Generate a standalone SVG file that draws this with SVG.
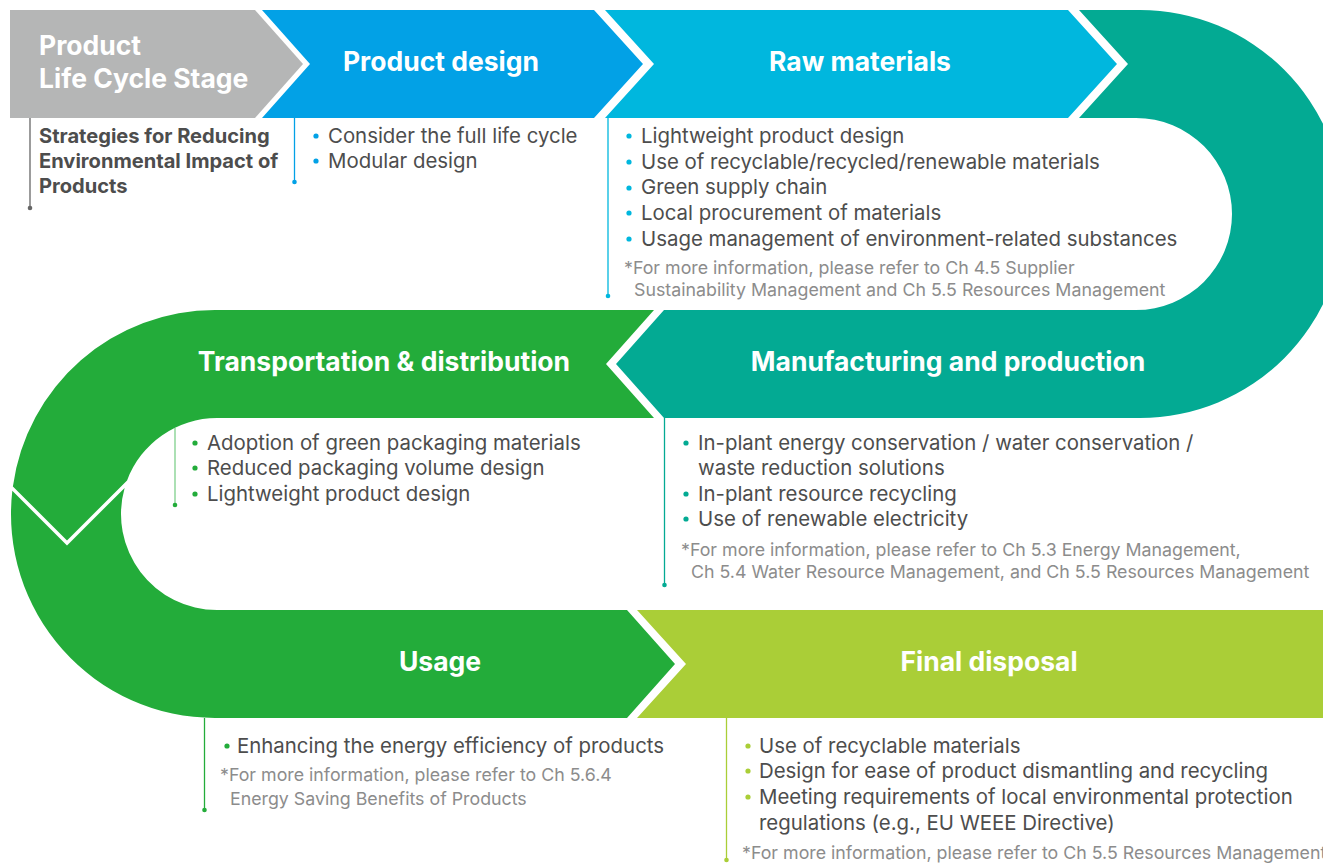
<svg xmlns="http://www.w3.org/2000/svg" width="1323" height="863" viewBox="0 0 1323 863">
<style>
.title{font-family:Inter,"Noto Sans","Liberation Sans",sans-serif;font-weight:700;font-size:26.5px;fill:#ffffff;text-anchor:middle}
.head{font-family:Inter,"Noto Sans","Liberation Sans",sans-serif;font-weight:700;font-size:26.5px;fill:#ffffff}
.strat{font-family:Inter,"Noto Sans","Liberation Sans",sans-serif;font-weight:700;font-size:20.1px;fill:#4d4d4d}
.body{font-family:Inter,"Noto Sans","Liberation Sans",sans-serif;font-size:20.4px;fill:#4d4d4d}
.note{font-family:Inter,"Noto Sans","Liberation Sans",sans-serif;font-size:17.8px;fill:#8c8c8c}
.lead{fill:none;stroke-width:1.3}
</style>
<rect x="0" y="0" width="1323" height="863" fill="#ffffff"/>

<g id="stage-header">
<polygon points="10,10 255,10 303,64 255,118 10,118" fill="#b5b6b6"/>
<text class="head" x="39" y="55">Product</text>
<text class="head" x="39" y="88">Life Cycle Stage</text>
<text class="strat" x="39" y="143">Strategies for Reducing</text>
<text class="strat" x="39" y="168">Environmental Impact of</text>
<text class="strat" x="39" y="193">Products</text>
</g>

<g id="stage-product-design">
<polygon points="262,10 594,10 643,64 594,118 262,118 310,64" fill="#02a1e6"/>
<text class="title" x="441" y="71">Product design</text>
<g fill="#02a1e6"><circle cx="316" cy="136" r="2.6"/><circle cx="316" cy="161" r="2.6"/></g>
<text class="body" x="328" y="143">Consider the full life cycle</text>
<text class="body" x="328" y="168">Modular design</text>
</g>

<g id="stage-manufacturing">
<path d="M1079,10 L1128,64 L1079,118 H1136 A96,96 0 0 1 1136,310 H664 L616,364 L664,418 H1140 A204,204 0 0 0 1140,10 Z" fill="#03aa93"/>
<text class="title" x="948" y="371">Manufacturing and production</text>
<g fill="#03aa93"><circle cx="686" cy="443" r="2.6"/><circle cx="686" cy="494" r="2.6"/><circle cx="686" cy="519" r="2.6"/></g>
<text class="body" x="698" y="450">In-plant energy conservation / water conservation /</text>
<text class="body" x="698" y="475">waste reduction solutions</text>
<text class="body" x="698" y="501">In-plant resource recycling</text>
<text class="body" x="698" y="526">Use of renewable electricity</text>
<text class="note" x="681" y="556">*For more information, please refer to Ch 5.3 Energy Management,</text>
<text class="note" x="691" y="578">Ch 5.4 Water Resource Management, and Ch 5.5 Resources Management</text>
</g>

<g id="stage-raw-materials">
<polygon points="605,10 1068,10 1117,64 1068,118 605,118 654,64" fill="#00b7de"/>
<text class="title" x="860" y="71">Raw materials</text>
<g fill="#00b7de"><circle cx="629" cy="136" r="2.6"/><circle cx="629" cy="162" r="2.6"/><circle cx="629" cy="188" r="2.6"/><circle cx="629" cy="213" r="2.6"/><circle cx="629" cy="239" r="2.6"/></g>
<text class="body" x="641" y="143">Lightweight product design</text>
<text class="body" x="641" y="169">Use of recyclable/recycled/renewable materials</text>
<text class="body" x="641" y="194">Green supply chain</text>
<text class="body" x="641" y="220">Local procurement of materials</text>
<text class="body" x="641" y="246">Usage management of environment-related substances</text>
<text class="note" x="624" y="274">*For more information, please refer to Ch 4.5 Supplier</text>
<text class="note" x="634" y="296">Sustainability Management and Ch 5.5 Resources Management</text>
</g>

<g id="stage-transportation">
<path d="M654,310 L606,364 L654,418 H217 A96,96 0 0 0 127.06,480.44 L67,540.5 L12.88,486.38 A204,204 0 0 1 215,310 Z" fill="#23ac3a"/>
<text class="title" x="384" y="371">Transportation &amp; distribution</text>
<g fill="#23ac3a"><circle cx="195" cy="443" r="2.6"/><circle cx="195" cy="468" r="2.6"/><circle cx="195" cy="494" r="2.6"/></g>
<text class="body" x="207" y="450">Adoption of green packaging materials</text>
<text class="body" x="207" y="475">Reduced packaging volume design</text>
<text class="body" x="207" y="501">Lightweight product design</text>
</g>

<g id="stage-usage">
<path d="M12.32,490.82 L67,545.5 L124.62,487.88 A96,96 0 0 0 217,610 H627 L675,664 L627,718 H215 A204,204 0 0 1 12.32,490.82 Z" fill="#23ac3a"/>
<text class="title" x="440" y="671">Usage</text>
<circle cx="227" cy="746" r="2.6" fill="#23ac3a"/>
<text class="body" x="237" y="753">Enhancing the energy efficiency of products</text>
<text class="note" x="220" y="781">*For more information, please refer to Ch 5.6.4</text>
<text class="note" x="230" y="805">Energy Saving Benefits of Products</text>
</g>

<g id="stage-final-disposal">
<polygon points="637,610 1323,610 1323,718 637,718 686,664" fill="#aace37"/>
<text class="title" x="989" y="671">Final disposal</text>
<g fill="#aace37"><circle cx="748" cy="746" r="2.6"/><circle cx="748" cy="771" r="2.6"/><circle cx="748" cy="797" r="2.6"/></g>
<text class="body" x="759" y="753">Use of recyclable materials</text>
<text class="body" x="759" y="778">Design for ease of product dismantling and recycling</text>
<text class="body" x="759" y="804">Meeting requirements of local environmental protection</text>
<text class="body" x="759" y="830">regulations (e.g., EU WEEE Directive)</text>
<text class="note" x="742" y="859">*For more information, please refer to Ch 5.5 Resources Management</text>
</g>

<g id="connectors">
<line class="lead" x1="30" y1="118" x2="30" y2="208" stroke="#666666"/><circle cx="30" cy="208" r="2.3" fill="#666666"/>
<line class="lead" x1="294.5" y1="118" x2="294.5" y2="182" stroke="#02a1e6"/><circle cx="294.5" cy="182" r="2.3" fill="#02a1e6"/>
<line class="lead" x1="608" y1="118" x2="608" y2="296" stroke="#00b7de"/><circle cx="608" cy="296" r="2.3" fill="#00b7de"/>
<line class="lead" x1="175" y1="428" x2="175" y2="505" stroke="#7fcf8c"/><circle cx="175" cy="505" r="2.3" fill="#23ac3a"/>
<line class="lead" x1="664.5" y1="418" x2="664.5" y2="585" stroke="#03aa93"/><circle cx="664.5" cy="585" r="2.3" fill="#03aa93"/>
<line class="lead" x1="204.5" y1="718" x2="204.5" y2="810" stroke="#23ac3a"/><circle cx="204.5" cy="810" r="2.3" fill="#23ac3a"/>
<line class="lead" x1="726.5" y1="718" x2="726.5" y2="860" stroke="#aace37"/><circle cx="726.5" cy="860" r="2.3" fill="#aace37"/>
</g>
</svg>
